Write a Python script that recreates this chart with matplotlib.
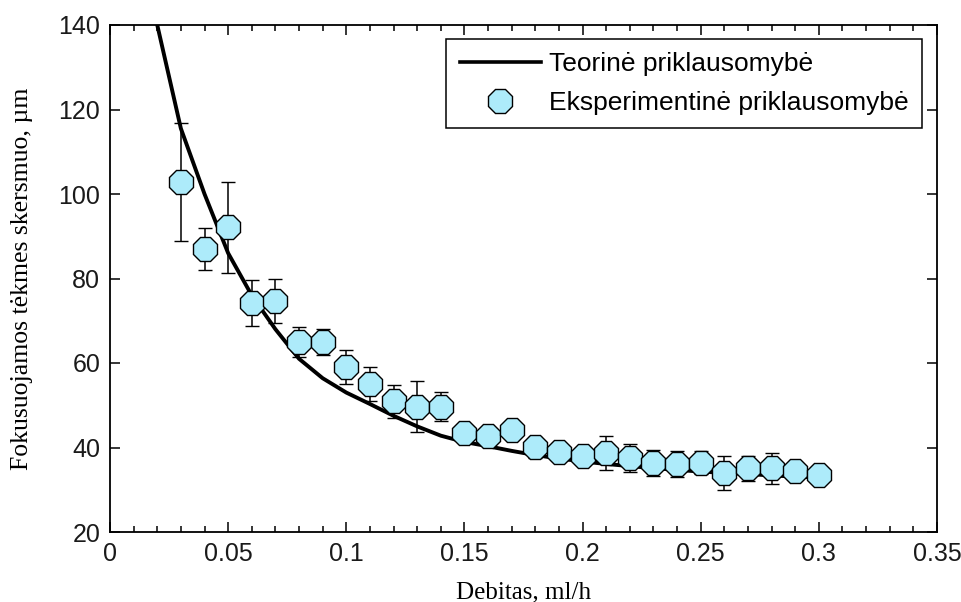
import numpy as np
import matplotlib
matplotlib.use("Agg")
import matplotlib.pyplot as plt
from matplotlib.lines import Line2D

# Theoretical dependence of the focused stream width on flow rate
flow_theory = [0.02, 0.03, 0.04, 0.05, 0.06, 0.07, 0.08, 0.09, 0.10, 0.11,
               0.12, 0.13, 0.14, 0.15, 0.16, 0.17, 0.18, 0.19, 0.20, 0.21,
               0.22, 0.23, 0.24, 0.25, 0.26, 0.27, 0.28, 0.29, 0.30]
width_theory = [140.0, 115.5, 100.0, 86.0, 76.0, 68.0, 61.0, 56.4, 53.0, 50.3,
                47.5, 45.0, 42.8, 41.3, 40.3, 39.2, 38.2, 37.4, 36.7, 36.1,
                35.6, 35.1, 34.7, 34.3, 34.0, 33.7, 33.4, 33.1, 32.9]

# Measured widths with their spread
flow_exp = [0.03, 0.04, 0.05, 0.06, 0.07, 0.08, 0.09, 0.10, 0.11, 0.12,
            0.13, 0.14, 0.15, 0.16, 0.17, 0.18, 0.19, 0.20, 0.21, 0.22,
            0.23, 0.24, 0.25, 0.26, 0.27, 0.28, 0.29, 0.30]
width_exp = [102.8, 87.0, 92.1, 74.2, 74.6, 65.0, 65.0, 59.0, 55.0, 50.9,
             49.7, 49.7, 43.5, 42.7, 44.1, 40.1, 38.9, 38.0, 38.7, 37.5,
             36.4, 36.0, 36.4, 33.9, 35.1, 35.1, 34.4, 33.5]
width_err = [14.0, 5.0, 10.8, 5.5, 5.2, 3.5, 3.0, 4.0, 4.0, 3.8,
             6.0, 3.4, 2.0, 2.0, 2.0, 2.5, 2.0, 2.0, 4.0, 3.4,
             3.1, 3.1, 2.7, 4.0, 3.0, 3.7, 2.0, 2.0]

x_ticks = [0, 0.05, 0.1, 0.15, 0.2, 0.25, 0.3, 0.35]
x_tick_labels = ["0", "0.05", "0.1", "0.15", "0.2", "0.25", "0.3", "0.35"]
y_ticks = [20, 40, 60, 80, 100, 120, 140]

label_theory = "Teorinė priklausomybė"
label_exp = "Eksperimentinė priklausomybė"
x_label = "Debitas, ml/h"
y_label = "Fokusuojamos tėkmes skersmuo, µm"

face = "#ADEBFA"
sans = ["Liberation Sans", "DejaVu Sans"]
serif = ["Liberation Serif", "DejaVu Serif"]

fig = plt.figure(figsize=(9.61, 6.02), dpi=100)
ax = fig.add_axes([110 / 961, 70 / 602, 827 / 961, 507 / 602])

ax.plot(flow_theory, width_theory, color="black", lw=2.8, zorder=2,
        solid_joinstyle="miter")
ax.errorbar(flow_exp, width_exp, yerr=width_err, fmt="8", ms=19,
            mfc=face, mec="black", mew=1.0, ecolor="black", elinewidth=1.1,
            capsize=5, capthick=1.5, zorder=3)

ax.set_xlim(0, 0.35)
ax.set_ylim(20, 140)
ax.set_xticks(x_ticks)
ax.set_xticklabels(x_tick_labels)
ax.set_xticks(np.arange(0, 0.3501, 0.01), minor=True)
ax.set_yticks(y_ticks)

ax.tick_params(which="both", direction="in", top=True, right=True,
               width=1.1, color="black")
ax.tick_params(which="major", length=7)
ax.tick_params(which="minor", length=4)
ax.tick_params(axis="x", pad=7)
ax.tick_params(axis="y", pad=7)
for lab in ax.get_xticklabels() + ax.get_yticklabels():
    lab.set_family(sans)
    lab.set_fontsize(18)
    lab.set_color("#1a1a1a")
for sp in ax.spines.values():
    sp.set_linewidth(1.3)

ax.set_xlabel(x_label, family=serif, fontsize=18, labelpad=11)
ax.set_ylabel(y_label, family=serif, fontsize=18.5, labelpad=18)

handles = [
    Line2D([], [], color="black", lw=2.6),
    Line2D([], [], ls="none", marker="8", ms=19, mfc=face, mec="black",
           mew=1.0),
]
leg = ax.legend(handles, [label_theory, label_exp], loc="upper right",
                bbox_to_anchor=(0.982, 0.972), borderaxespad=0,
                prop={"family": sans, "size": 19}, fancybox=False,
                framealpha=1, edgecolor="black", handlelength=3.1,
                handletextpad=0.3, borderpad=0.5, labelspacing=0.55)
leg.get_frame().set_linewidth(1.1)

fig.savefig("out.png", dpi=100)
